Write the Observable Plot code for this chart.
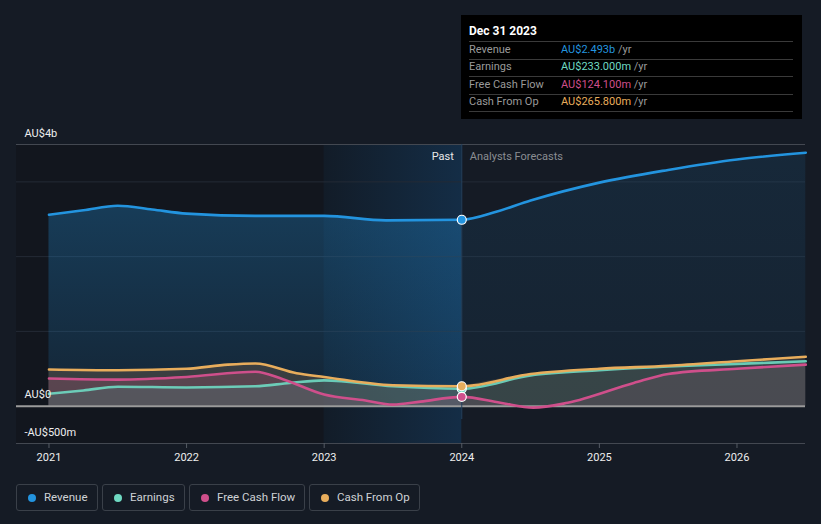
<!DOCTYPE html>
<html>
<head>
<meta charset="utf-8">
<script src="https://cdn.jsdelivr.net/npm/d3@7"></script>
<script src="https://cdn.jsdelivr.net/npm/@observablehq/plot@0.6"></script>
<style>
  html, body { margin: 0; padding: 0; background: #151b25; }
  body { font-family: Roboto, "Noto Sans", sans-serif; }
  #wrap { position: relative; width: 821px; height: 524px; overflow: hidden; background: #151b25; }
  #chart { position: absolute; left: 0; top: 0; }
  #tip { position: absolute; left: 461px; top: 15px; width: 341px; height: 104px; background: #000; }
  #tip .title { position: absolute; left: 8px; top: 9px; font-size: 12px; font-weight: 700; color: #fff; line-height: 14px; }
  #tip .sep { position: absolute; left: 8px; width: 324px; height: 1px; background: #3a3a3a; }
  #tip .row { position: absolute; left: 8px; font-size: 11px; line-height: 14px; color: #9a9a9a; white-space: nowrap; }
  #tip .val { position: absolute; left: 92px; white-space: nowrap; }
  #tip .unit { color: #9a9a9a; }
  .lg { position: absolute; top: 484px; height: 25px; border: 1px solid #3a4049; border-radius: 3px; box-sizing: content-box; }
  .lg .dot { position: absolute; left: 11px; top: 9px; width: 8px; height: 8px; border-radius: 50%; }
  .lg .lbl { position: absolute; left: 27px; top: 5px; font-size: 11.5px; line-height: 15px; color: #cfd2d6; white-space: nowrap; }
</style>
</head>
<body>
<div id="wrap">
  <div id="chart"></div>
  <div id="tip"></div>
  <div id="legend"></div>
</div>
<script>
// ---------- data (billions of AU$) ----------
const revenueYears  = [2021.0, 2021.25, 2021.5, 2021.75, 2022.0, 2022.5, 2023.0, 2023.45, 2024.0, 2024.25, 2024.5, 2025.0, 2025.5, 2026.0, 2026.5];
const revenueValues = [2.56,   2.62,    2.68,   2.63,    2.575,  2.545,  2.545,  2.485,   2.493,  2.60,    2.75,   2.99,   3.16,   3.30,   3.39];

const earningsYears  = [2021.0, 2021.25, 2021.5, 2022.0, 2022.5, 2022.75, 2023.0, 2023.5, 2024.0, 2024.5, 2025.0, 2025.5, 2026.0, 2026.5];
const earningsValues = [0.165,  0.21,    0.26,   0.25,   0.265,  0.31,    0.345,  0.265,  0.233,  0.41,   0.48,   0.53,   0.565,  0.60];

const fcfYears  = [2021.0, 2021.5, 2022.0, 2022.5, 2022.7, 2023.0, 2023.3, 2023.5, 2023.7, 2024.0, 2024.28, 2024.52, 2024.77, 2025.25, 2025.5, 2026.0, 2026.5];
const fcfValues = [0.37,   0.355,  0.39,   0.46,   0.36,   0.155,  0.076,  0.02,   0.06,   0.124,  0.045,   -0.02,   0.045,   0.31,    0.43,   0.50,   0.555];

const cfoYears  = [2021.0, 2021.5, 2022.0, 2022.3, 2022.5, 2022.8, 2023.0, 2023.5, 2024.0, 2024.5, 2025.0, 2025.5, 2026.0, 2026.5];
const cfoValues = [0.49,   0.48,   0.50,   0.555,  0.57,   0.44,   0.39,   0.28,   0.266,  0.43,   0.50,   0.54,   0.60,   0.66];

const seriesNames  = ["Revenue", "Earnings", "Free Cash Flow", "Cash From Op"];
const seriesColors = ["#2394df", "#6fd9c2", "#cf4f8b", "#e8ad5c"];
const tooltipDate   = "Dec 31 2023";
const tooltipValues = ["AU$2.493b", "AU$233.000m", "AU$124.100m", "AU$265.800m"];

const xDomain = [2020.764, 2026.498];
const yDomain = [-0.5, 3.5];
const xTicks = [2021, 2022, 2023, 2024, 2025, 2026];
const yTickValues = [-0.5, 0, 3.5];
const yTickLabels = ["-AU$500m", "AU$0", "AU$4b"];
const gridValues = [1, 2, 3];
const highlightStart = 2023;
const forecastStart = 2024;

// ---------- build ----------
const toRows = (xs, ys) => xs.map((x, i) => ({x, y: ys[i]}));
const revenue = toRows(revenueYears, revenueValues);
const earnings = toRows(earningsYears, earningsValues);
const fcf = toRows(fcfYears, fcfValues);
const cfo = toRows(cfoYears, cfoValues);
const past = rows => rows.filter(d => d.x <= forecastStart);
const fut = rows => rows.filter(d => d.x >= forecastStart);

const defs = () => {
  const d = document.createElementNS("http://www.w3.org/2000/svg", "defs");
  d.innerHTML = `
    <linearGradient id="hlGrad" x1="0" x2="1" y1="0" y2="0">
      <stop offset="0" stop-color="#121c28"/><stop offset="1" stop-color="#142d46"/>
    </linearGradient>
    <linearGradient id="revPast" x1="0" x2="0" y1="0" y2="1">
      <stop offset="0" stop-color="#2394df" stop-opacity="0.30"/><stop offset="1" stop-color="#2394df" stop-opacity="0.12"/>
    </linearGradient>
    <linearGradient id="revFut" x1="0" x2="0" y1="0" y2="1">
      <stop offset="0" stop-color="#2394df" stop-opacity="0.11"/><stop offset="1" stop-color="#2394df" stop-opacity="0.06"/>
    </linearGradient>`;
  return d;
};

const curve = "monotone-x";
const lowerFills = {cfo: "#81674d", fcf: "#95526e", earn: "#4c7678"};

const plot = Plot.plot({
  width: 821,
  height: 470,
  marginTop: 144,
  marginBottom: 27,
  marginLeft: 16,
  marginRight: 16,
  x: {domain: xDomain, axis: null},
  y: {domain: yDomain, axis: null},
  style: {background: "transparent", fontFamily: "Roboto, 'Noto Sans', sans-serif", overflow: "visible"},
  marks: [
    defs,
    // background bands
    Plot.rect([0], {x1: xDomain[0], x2: highlightStart, fill: "#12161e"}),
    Plot.rect([0], {x1: highlightStart, x2: forecastStart, fill: "url(#hlGrad)"}),
    // grid
    Plot.ruleY(gridValues, {stroke: "#242b36", strokeWidth: 1}),
    Plot.ruleY([yDomain[1], yDomain[0]], {stroke: "#434851", strokeWidth: 1}),
    // revenue areas
    Plot.areaY(past(revenue), {x: "x", y: "y", fill: "url(#revPast)", curve}),
    Plot.areaY(fut(revenue), {x: "x", y: "y", fill: "url(#revFut)", curve}),
    // lower areas
    Plot.areaY(past(cfo), {x: "x", y: "y", fill: lowerFills.cfo, fillOpacity: 0.35, curve}),
    Plot.areaY(fut(cfo), {x: "x", y: "y", fill: lowerFills.cfo, fillOpacity: 0.25, curve}),
    Plot.areaY(past(fcf), {x: "x", y: "y", fill: lowerFills.fcf, fillOpacity: 0.35, curve}),
    Plot.areaY(fut(fcf), {x: "x", y: "y", fill: lowerFills.fcf, fillOpacity: 0.25, curve}),
    Plot.areaY(past(earnings), {x: "x", y: "y", fill: lowerFills.earn, fillOpacity: 0.35, curve}),
    Plot.areaY(fut(earnings), {x: "x", y: "y", fill: lowerFills.earn, fillOpacity: 0.25, curve}),
    // zero line
    Plot.ruleY([0], {stroke: "#9b9b9b", strokeWidth: 2}),
    // divider at forecast start
    Plot.ruleX([forecastStart], {y1: yDomain[0], y2: yDomain[1], insetTop: -24, stroke: "#24425f", strokeWidth: 1}),
    // lines
    Plot.line(revenue, {x: "x", y: "y", stroke: seriesColors[0], strokeWidth: 2.6, curve}),
    Plot.line(earnings, {x: "x", y: "y", stroke: seriesColors[1], strokeWidth: 2.6, curve, strokeOpacity: 0.9}),
    Plot.line(fcf, {x: "x", y: "y", stroke: seriesColors[2], strokeWidth: 2.6, curve}),
    Plot.line(cfo, {x: "x", y: "y", stroke: seriesColors[3], strokeWidth: 2.6, curve}),
    // dots at forecast start
    Plot.dot([revenue, earnings, fcf, cfo].map((s, i) => ({...s.find(d => d.x === forecastStart), c: seriesColors[i]})),
      {x: "x", y: "y", fill: "c", stroke: "#ffffff", strokeWidth: 1.2, r: 4.5}),
    // past / forecast labels
    Plot.text(["Past"], {x: forecastStart, frameAnchor: "top", dy: 8, dx: -8, textAnchor: "end", text: d => d, fill: "#e8e8e8", fontSize: 11}),
    Plot.text(["Analysts Forecasts"], {x: forecastStart, frameAnchor: "top", dy: 8, dx: 8, textAnchor: "start", text: d => d, fill: "#8a8d92", fontSize: 11}),
    // y labels
    Plot.text(yTickValues, {y: d => d, frameAnchor: "left", dx: 8, dy: -11.5, textAnchor: "start", text: (d, i) => yTickLabels[i], fill: "#eeeeee", fontSize: 11}),
    // x axis ticks + labels
    Plot.ruleX(xTicks, {x: d => d, y1: yDomain[0], y2: yDomain[0], insetBottom: -5, stroke: "#555b64"}),
    Plot.text(xTicks, {x: d => d, y: yDomain[0], dy: 14, text: d => String(d), fill: "#eeeeee", fontSize: 11})
  ]
});
document.getElementById("chart").appendChild(plot);

// ---------- tooltip ----------
const tip = document.getElementById("tip");
const t = document.createElement("div");
t.className = "title"; t.textContent = tooltipDate; tip.appendChild(t);
const sepTops = [26, 43.5, 61, 78.5, 96];
sepTops.forEach(y => { const s = document.createElement("div"); s.className = "sep"; s.style.top = y + "px"; tip.appendChild(s); });
const rowTops = [27.5, 45, 62.5, 80];
seriesNames.forEach((n, i) => {
  const r = document.createElement("div");
  r.className = "row"; r.style.top = rowTops[i] + "px";
  r.textContent = n;
  const v = document.createElement("span");
  v.className = "val";
  v.innerHTML = `<span style="color:${seriesColors[i]}">${tooltipValues[i]}</span> <span class="unit">/yr</span>`;
  r.appendChild(v);
  tip.appendChild(r);
});

// ---------- legend ----------
const legend = document.getElementById("legend");
const lgLeft = [16, 102, 189, 309];
const lgWidth = [80, 81, 114, 109];
seriesNames.forEach((n, i) => {
  const b = document.createElement("div");
  b.className = "lg";
  b.style.left = lgLeft[i] + "px";
  b.style.width = lgWidth[i] + "px";
  b.innerHTML = `<div class="dot" style="background:${seriesColors[i]}"></div><div class="lbl">${n}</div>`;
  legend.appendChild(b);
});
</script>
</body>
</html>
